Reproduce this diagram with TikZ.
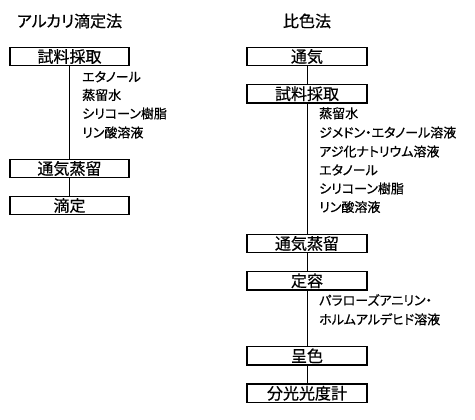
\documentclass[tikz,border=0pt]{standalone}
\usepackage{fontspec}
\setmainfont{Noto Sans CJK JP}[RawFeature=+palt,FakeBold=0.6]
\begin{document}
\begin{tikzpicture}[x=1pt,y=-1pt,
  box/.style={draw,line width=1.2pt,minimum height=18.5pt,inner sep=0pt,font=\fontsize{16}{16}\selectfont},
  lbox/.style={box,minimum width=119pt},
  rbox/.style={box,minimum width=120pt},
  lab/.style={anchor=west,inner sep=0pt,font=\fontsize{13}{13}\selectfont},
  ttl/.style={inner sep=0pt,font=\fontsize{16}{16}\selectfont},
  conn/.style={line width=1pt}]
\useasboundingbox (0,0) rectangle (475,420);
% left column
\node[ttl] (lt) at (69.5,21) {アルカリ滴定法};
\node[lbox] (l1) at (69.5,56.5) {試料採取};
\node[lbox] (l2) at (69.5,168.5) {通気蒸留};
\node[lbox] (l3) at (69.5,205.5) {滴定};
\node[lab] (la1) at (82,76.7) {エタノール};
\node[lab] (la2) at (82,95) {蒸留水};
\node[lab] (la3) at (82,113.5) {シリコーン樹脂};
\node[lab] (la4) at (82,132.5) {リン酸溶液};
\draw[conn] (l1) -- (l2);
\draw[conn] (l2) -- (l3);
% right column
\node[ttl] (rt) at (307,21) {比色法};
\node[rbox] (r1) at (307,56.5) {通気};
\node[rbox] (r2) at (307,93.8) {試料採取};
\node[rbox] (r3) at (307,243.5) {通気蒸留};
\node[rbox] (r4) at (307,280.8) {定容};
\node[rbox] (r5) at (307,355.8) {呈色};
\node[rbox] (r6) at (307,393.3) {分光光度計};
\node[lab] (ra1) at (319,113.3) {蒸留水};
\node[lab] (ra2) at (319,132.5) {ジメドン・エタノール溶液};
\node[lab] (ra3) at (319,151.5) {アジ化ナトリウム溶液};
\node[lab] (ra4) at (319,170) {エタノール};
\node[lab] (ra5) at (319,188.5) {シリコーン樹脂};
\node[lab] (ra6) at (319,207) {リン酸溶液};
\node[lab] (ra7) at (319,300) {パラローズアニリン・};
\node[lab] (ra8) at (319,319.3) {ホルムアルデヒド溶液};
\draw[conn] (r1) -- (r2);
\draw[conn] (r2) -- (r3);
\draw[conn] (r3) -- (r4);
\draw[conn] (r4) -- (r5);
\draw[conn] (r5) -- (r6);
\end{tikzpicture}
\end{document}
